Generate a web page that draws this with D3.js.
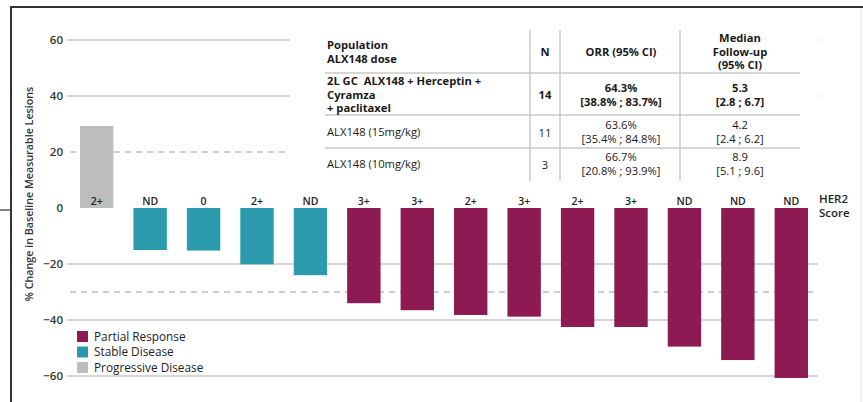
<!DOCTYPE html>
<html>
<head>
<meta charset="utf-8">
<script src="https://cdn.jsdelivr.net/npm/d3@7"></script>
<style>
  body { margin: 0; background: #fff; }
  text { font-family: "Open Sans", "Noto Sans", sans-serif; white-space: pre; }
</style>
</head>
<body>
<div id="plot"></div>
<script>
// waterfall data, one entry per patient
var her2 = ["2+", "ND", "0", "2+", "ND", "3+", "3+", "2+", "3+", "2+", "3+", "ND", "ND", "ND"]
var change = [29.3, -15, -15.2, -20.1, -24, -34, -36.5, -38.2, -38.8, -42.5, -42.5, -49.5, -54.3, -60.7]
var response = ["PD", "SD", "SD", "SD", "SD", "PR", "PR", "PR", "PR", "PR", "PR", "PR", "PR", "PR"]

var yTicks = [60, 40, 20, 0, -20, -40, -60]
var solidGrid = [60, 40, -20, -40, -60]
var dashedGrid = [20, -30]

var legendKeys = ["PR", "SD", "PD"]
var legendLabels = ["Partial Response", "Stable Disease", "Progressive Disease"]

// table
var tableHeader = [["Population", "ALX148 dose"], ["N"], ["ORR (95% CI)"], ["Median", "Follow-up", "(95% CI)"]]
var tablePop = [["2L GC  ALX148 + Herceptin +", "Cyramza", "+ paclitaxel"], ["ALX148 (15mg/kg)"], ["ALX148 (10mg/kg)"]]
var tableN = ["14", "11", "3"]
var tableOrr = [["64.3%", "[38.8% ; 83.7%]"], ["63.6%", "[35.4% ; 84.8%]"], ["66.7%", "[20.8% ; 93.9%]"]]
var tableFollow = [["5.3", "[2.8 ; 6.7]"], ["4.2", "[2.4 ; 6.2]"], ["8.9", "[5.1 ; 9.6]"]]

var colors = { PR: "#8d1a53", SD: "#2c9aad", PD: "#bdbdbd" }

var svgWidth = 863
var svgHeight = 402

var svg = d3.select("#plot")
  .append("svg")
  .attr("width", svgWidth)
  .attr("height", svgHeight)

// frame
svg.append("path")
  .attr("d", "M11,402 V7 H863")
  .attr("fill", "none")
  .attr("stroke", "#333")
  .attr("stroke-width", 2)
svg.append("line")
  .attr("x1", 0).attr("x2", 11).attr("y1", 210).attr("y2", 210)
  .attr("stroke", "#333").attr("stroke-width", 1.2)
svg.append("line")
  .attr("x1", 861).attr("x2", 861).attr("y1", 8).attr("y2", 402)
  .attr("stroke", "#e4e4e4").attr("stroke-width", 1)

var x = d3.scaleBand()
  .domain(d3.range(change.length))
  .range([70, 818])
  .paddingInner(0.375)
  .paddingOuter(0.1875)

var y = d3.scaleLinear()
  .domain([-60, 60])
  .range([376, 40])

// grid
svg.selectAll(".grid")
  .data(solidGrid)
  .enter()
  .append("line")
  .attr("class", "grid")
  .attr("x1", 67)
  .attr("x2", 818)
  .attr("y1", d => y(d))
  .attr("y2", d => y(d))
  .attr("stroke", "#c9c9c9")
  .attr("stroke-width", 1.3)

svg.selectAll(".dash")
  .data(dashedGrid)
  .enter()
  .append("line")
  .attr("class", "dash")
  .attr("x1", 70)
  .attr("x2", 818)
  .attr("y1", d => y(d))
  .attr("y2", d => y(d))
  .attr("stroke", "#bdbdbd")
  .attr("stroke-width", 1.3)
  .attr("stroke-dasharray", "6,5")

// y axis labels
var leftAxis = d3.axisLeft(y).tickValues(yTicks).tickSize(0).tickPadding(0)
var yAxis = svg.append("g")
  .attr("transform", "translate(63,0)")
  .call(leftAxis)
yAxis.select(".domain").remove()
yAxis.selectAll("text")
  .style("font-family", "'Open Sans', sans-serif")
  .style("font-size", "11.5px")
  .style("font-weight", "600")
  .attr("fill", "#333")

svg.append("text")
  .attr("transform", "translate(33,194) rotate(-90)")
  .attr("text-anchor", "middle")
  .style("font-size", "10.7px")
  .style("font-weight", "600")
  .attr("fill", "#333")
  .text("% Change in Baseline Measurable Lesions")

// bars
svg.selectAll(".bar")
  .data(change)
  .enter()
  .append("rect")
  .attr("class", "bar")
  .attr("x", (d, i) => x(i))
  .attr("width", x.bandwidth())
  .attr("y", d => y(Math.max(0, d)))
  .attr("height", d => Math.abs(y(d) - y(0)))
  .attr("fill", (d, i) => colors[response[i]])

// HER2 labels
svg.selectAll(".her2")
  .data(her2)
  .enter()
  .append("text")
  .attr("class", "her2")
  .attr("x", (d, i) => x(i) + x.bandwidth() / 2)
  .attr("y", 205)
  .attr("text-anchor", "middle")
  .style("font-size", "10.5px")
  .style("font-weight", "600")
  .attr("fill", "#222")
  .text(d => d)

svg.append("text")
  .attr("x", 819).attr("y", 203)
  .style("font-size", "11.5px").style("font-weight", "600").attr("fill", "#222")
  .text("HER2")
svg.append("text")
  .attr("x", 819).attr("y", 217)
  .style("font-size", "11.5px").style("font-weight", "600").attr("fill", "#222")
  .text("Score")

// legend
var legend = svg.selectAll(".legend")
  .data(legendKeys)
  .enter()
  .append("g")
  .attr("class", "legend")
  .attr("transform", (d, i) => `translate(77, ${331 + i * 15.5})`)
legend.append("rect")
  .attr("width", 11).attr("height", 11)
  .attr("fill", d => colors[d])
legend.append("text")
  .attr("x", 17).attr("y", 9.5)
  .style("font-size", "11.8px")
  .attr("fill", "#222")
  .text((d, i) => legendLabels[i])

// table
var table = svg.append("g")
table.append("rect")
  .attr("x", 290).attr("y", 18).attr("width", 527).attr("height", 168)
  .attr("fill", "#fff")

var lineColor = "#c8c8c8"
;[530, 560, 680].forEach(function (vx) {
  table.append("line")
    .attr("x1", vx).attr("x2", vx).attr("y1", 30).attr("y2", 181)
    .attr("stroke", lineColor).attr("stroke-width", 1.5)
})
;[73, 115, 148].forEach(function (hy) {
  table.append("line")
    .attr("x1", 325).attr("x2", 800).attr("y1", hy).attr("y2", hy)
    .attr("stroke", lineColor).attr("stroke-width", 1.5)
})

function lines(xp, yTop, arr, anchor, bold) {
  arr.forEach(function (s, k) {
    table.append("text")
      .attr("x", xp)
      .attr("y", yTop + k * 13.5)
      .attr("text-anchor", anchor)
      .style("font-size", "11.2px")
      .style("font-weight", bold ? "700" : "400")
      .attr("fill", "#1a1a1a")
      .text(s)
  })
}

// header
lines(327, 49, tableHeader[0], "start", true)
lines(545, 56, tableHeader[1], "middle", true)
lines(621, 56, tableHeader[2], "middle", true)
lines(740, 42, tableHeader[3], "middle", true)

// body rows
var rowTop = [85, 136, 168]
tablePop.forEach(function (p, r) {
  lines(327, rowTop[r], p, "start", r === 0)
  lines(545, r === 0 ? 99 : rowTop[r] + 1, [tableN[r]], "middle", r === 0)
  lines(621, r === 0 ? 92 : rowTop[r] - 7, tableOrr[r], "middle", r === 0)
  lines(740, r === 0 ? 92 : rowTop[r] - 7, tableFollow[r], "middle", r === 0)
})
</script>
</body>
</html>
